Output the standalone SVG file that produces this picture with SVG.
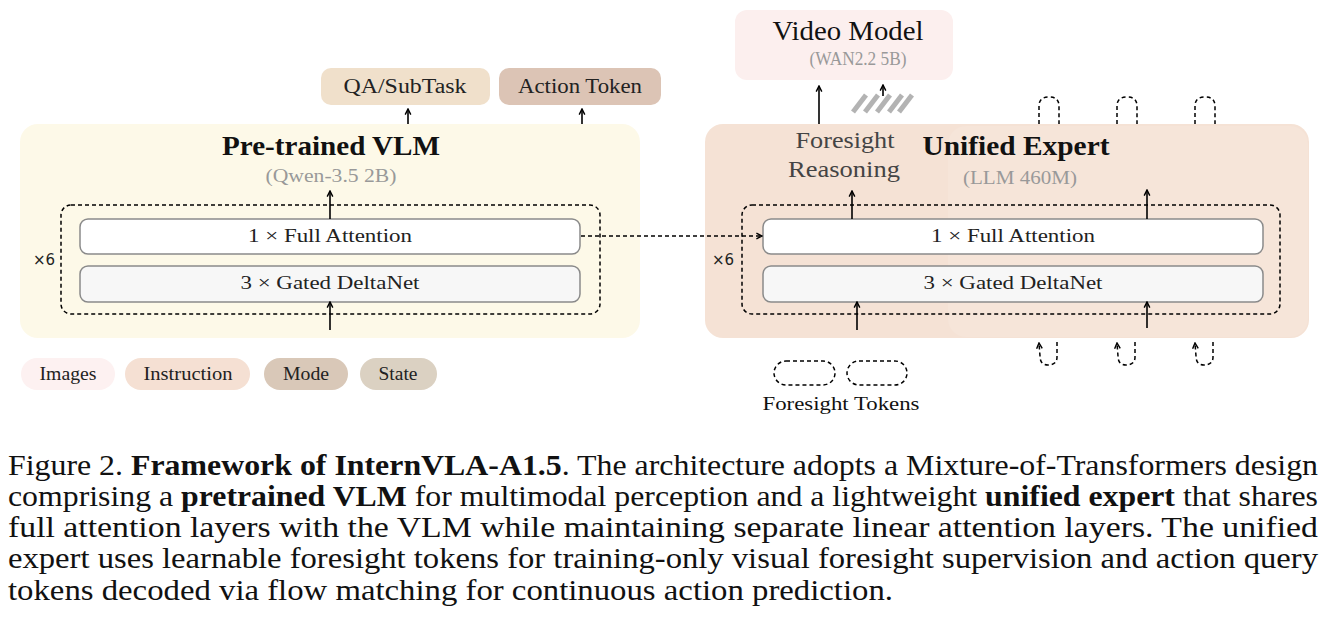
<svg xmlns="http://www.w3.org/2000/svg" width="1326" height="641" viewBox="0 0 1326 641" font-family="Liberation Serif, Tinos, Times New Roman, serif">
<defs>
<marker id="ah" viewBox="0 0 10 10" refX="9" refY="5" markerWidth="8" markerHeight="8" markerUnits="userSpaceOnUse" orient="auto">
<path d="M2,1.5 L9,5 L2,8.5" fill="none" stroke="#000" stroke-width="1.8"/>
</marker>
</defs>
<style>
text{fill:#111}
.t{font-size:28px;font-weight:bold;text-anchor:middle}
.sub{font-size:18px;fill:#999;text-anchor:middle}
.lay{font-size:19px;text-anchor:middle;fill:#222}
.tok{font-size:18px;text-anchor:middle;fill:#222}
.out{font-size:20px;text-anchor:middle;fill:#222}
.fr{font-size:23px;text-anchor:middle;fill:#444}
.x6{font-family:"DejaVu Sans","Liberation Sans",sans-serif;font-size:15px;text-anchor:middle;fill:#222}
.cap{font-size:30px;fill:#111}
.b{font-weight:bold}
.fa{fill:#fff;stroke:#8a8a8a;stroke-width:1.5}
.gd{fill:#f7f7f7;stroke:#8a8a8a;stroke-width:1.5}
.dash{fill:none;stroke:#000;stroke-width:1.5;stroke-dasharray:4 3}
.ar{fill:none;stroke:#000;stroke-width:1.6;marker-end:url(#ah)}
.ard{fill:none;stroke:#000;stroke-width:1.5;stroke-dasharray:4 3;marker-end:url(#ah)}
.hatch{stroke:#b3b3b3;stroke-width:5}
</style>

<g id="vlm">
<rect x="20" y="124" width="620" height="214" rx="18" fill="#fdf9e8"/>
<text class="t" x="331" y="155" textLength="218" lengthAdjust="spacingAndGlyphs">Pre-trained VLM</text>
<text class="sub" x="331" y="182" textLength="131" lengthAdjust="spacingAndGlyphs">(Qwen-3.5 2B)</text>
<rect class="dash" x="61" y="205" width="539" height="109" rx="10"/>
<rect class="fa" x="80" y="219" width="500" height="35" rx="8"/>
<text class="lay" x="330" y="242" textLength="164" lengthAdjust="spacingAndGlyphs">1 × Full Attention</text>
<rect class="gd" x="80" y="266" width="500" height="36" rx="8"/>
<text class="lay" x="330" y="289" textLength="179" lengthAdjust="spacingAndGlyphs">3 × Gated DeltaNet</text>
<text class="x6" x="44" y="265">×6</text>
</g>

<g id="expert">
<rect x="705" y="124" width="604" height="214" rx="18" fill="#f5e2d5"/>
<rect x="948" y="126" width="360" height="211" rx="18" fill="#ffffff" fill-opacity="0.1"/>
<text class="fr" x="845" y="148" textLength="99" lengthAdjust="spacingAndGlyphs">Foresight</text>
<text class="fr" x="844" y="177" textLength="112" lengthAdjust="spacingAndGlyphs">Reasoning</text>
<text class="t" x="1016" y="155" textLength="187" lengthAdjust="spacingAndGlyphs">Unified Expert</text>
<text class="sub" x="1020" y="184" textLength="114" lengthAdjust="spacingAndGlyphs">(LLM 460M)</text>
<rect class="dash" x="742" y="205" width="538" height="109" rx="10"/>
<rect class="fa" x="763" y="219" width="500" height="35" rx="8"/>
<text class="lay" x="1013" y="242" textLength="164" lengthAdjust="spacingAndGlyphs">1 × Full Attention</text>
<rect class="gd" x="763" y="266" width="500" height="36" rx="8"/>
<text class="lay" x="1013" y="289" textLength="179" lengthAdjust="spacingAndGlyphs">3 × Gated DeltaNet</text>
<text class="x6" x="723" y="265">×6</text>
</g>

<g id="qa-subtask">
<rect x="321" y="68" width="169" height="37" rx="10" fill="#f0e0cb"/>
<text class="out" x="405" y="93" textLength="123" lengthAdjust="spacingAndGlyphs">QA/SubTask</text>
</g>
<g id="action-token">
<rect x="499" y="68" width="162" height="37" rx="10" fill="#dcc4b5"/>
<text class="out" x="580" y="93" textLength="124" lengthAdjust="spacingAndGlyphs">Action Token</text>
</g>

<g id="video-model">
<rect x="735" y="10" width="218" height="70" rx="12" fill="#fcefee"/>
<text x="848" y="40" font-size="27" text-anchor="middle" textLength="151" lengthAdjust="spacingAndGlyphs">Video Model</text>
<text class="sub" x="858" y="65" textLength="97" lengthAdjust="spacingAndGlyphs">(WAN2.2 5B)</text>
</g>

<g id="hatched-latent">
<line class="hatch" x1="853" y1="112" x2="866" y2="95"/>
<line class="hatch" x1="865" y1="112" x2="878" y2="95"/>
<line class="hatch" x1="877" y1="112" x2="890" y2="95"/>
<line class="hatch" x1="889" y1="112" x2="902" y2="95"/>
<line class="hatch" x1="899" y1="112" x2="912" y2="95"/>
</g>

<g id="images"><rect x="21" y="358" width="94" height="32" rx="16" fill="#fdf1f1"/><text class="tok" x="68" y="380" textLength="57" lengthAdjust="spacingAndGlyphs">Images</text></g>
<g id="instruction"><rect x="125" y="358" width="125" height="32" rx="16" fill="#f5e0d3"/><text class="tok" x="188" y="380" textLength="89" lengthAdjust="spacingAndGlyphs">Instruction</text></g>
<g id="mode"><rect x="264" y="358" width="84" height="32" rx="16" fill="#d9c8b8"/><text class="tok" x="306" y="380" textLength="46" lengthAdjust="spacingAndGlyphs">Mode</text></g>
<g id="state"><rect x="360" y="358" width="77" height="32" rx="16" fill="#dbd1c2"/><text class="tok" x="398" y="380" textLength="39" lengthAdjust="spacingAndGlyphs">State</text></g>

<g id="foresight-tokens">
<rect class="dash" x="774" y="361" width="61" height="24" rx="12" fill="#fdf1ee"/>
<rect class="dash" x="847" y="361" width="60" height="24" rx="12" fill="#fdf1ee"/>
<text x="841" y="410" font-size="19" text-anchor="middle" textLength="157" lengthAdjust="spacingAndGlyphs">Foresight Tokens</text>
</g>

<g id="connectors">
<line class="ar" x1="408" y1="124" x2="408" y2="109"/>
<line class="ar" x1="582" y1="124" x2="582" y2="109"/>
<line class="ar" x1="330" y1="219" x2="330" y2="191"/>
<line class="ar" x1="330" y1="330" x2="330" y2="302"/>
<line class="ard" x1="581" y1="236" x2="762" y2="236"/>
<line class="ar" x1="852" y1="219" x2="852" y2="191"/>
<line class="ar" x1="857" y1="330" x2="857" y2="302"/>
<line class="ar" x1="1147" y1="219" x2="1147" y2="190"/>
<line class="ar" x1="1147" y1="328" x2="1147" y2="302"/>
<line class="ar" x1="819" y1="124" x2="819" y2="86"/>
<line class="ar" x1="883" y1="96" x2="883" y2="85"/>
<path class="dash" d="M1039,124 L1039,106 Q1039,97 1049,97 Q1059,97 1059,106 L1059,124"/>
<path class="dash" d="M1117,124 L1117,106 Q1117,97 1127,97 Q1137,97 1137,106 L1137,124"/>
<path class="dash" d="M1195,124 L1195,106 Q1195,97 1205,97 Q1215,97 1215,106 L1215,124"/>
<path class="ard" d="M1057,342 L1057,357 Q1057,365 1048,365 Q1040,365 1040,356 L1039,343"/>
<path class="ard" d="M1135,342 L1135,357 Q1135,365 1126,365 Q1118,365 1118,356 L1117,343"/>
<path class="ard" d="M1213,342 L1213,357 Q1213,365 1204,365 Q1196,365 1196,356 L1195,343"/>
</g>

<g id="caption">
<text class="cap" x="8" y="475" textLength="1310" lengthAdjust="spacingAndGlyphs">Figure 2. <tspan class="b">Framework of InternVLA-A1.5</tspan>. The architecture adopts a Mixture-of-Transformers design</text>
<text class="cap" x="8" y="506" textLength="1310" lengthAdjust="spacingAndGlyphs">comprising a <tspan class="b">pretrained VLM</tspan> for multimodal perception and a lightweight <tspan class="b">unified expert</tspan> that shares</text>
<text class="cap" x="8" y="537" textLength="1310" lengthAdjust="spacingAndGlyphs">full attention layers with the VLM while maintaining separate linear attention layers. The unified</text>
<text class="cap" x="8" y="568" textLength="1310" lengthAdjust="spacingAndGlyphs">expert uses learnable foresight tokens for training-only visual foresight supervision and action query</text>
<text class="cap" x="8" y="600" textLength="885" lengthAdjust="spacingAndGlyphs">tokens decoded via flow matching for continuous action prediction.</text>
</g>
</svg>
